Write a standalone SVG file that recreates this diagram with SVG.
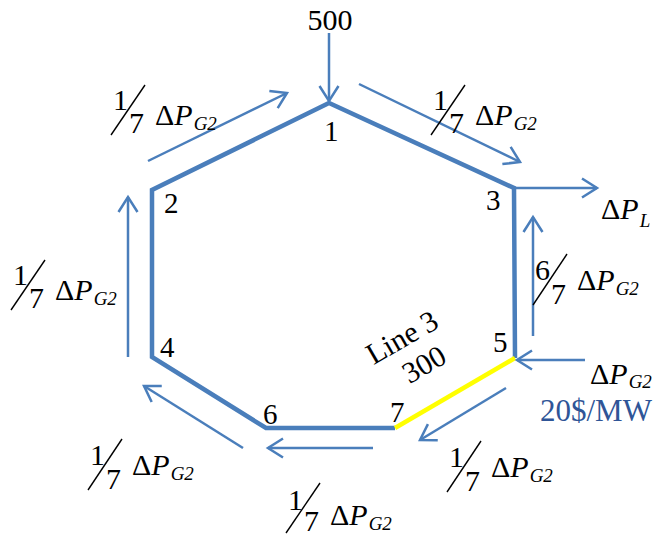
<svg xmlns="http://www.w3.org/2000/svg" width="663" height="537" viewBox="0 0 663 537" font-family="'Liberation Serif','Times New Roman',Times,serif">
<style>
text{font-family:"Liberation Serif","Times New Roman",Times,serif;fill:#000}
.nl{font-size:29px}
.fr{font-size:30px}
.dp{font-size:30px}
.it{font-style:italic}
.sb{font-size:19px;font-style:italic}
.sl{stroke:#000;stroke-width:1.4}
.edge{stroke:#4a7ebb;stroke-width:4.5;fill:none;stroke-linejoin:miter}
.hot{stroke:#ffff00}
.arr{stroke:#4a7ebb;stroke-width:2.5;fill:none;marker-end:url(#ah)}
.cost{fill:#2f5597;font-size:31px}
</style>
<defs>
<marker id="ah" markerUnits="userSpaceOnUse" markerWidth="20" markerHeight="22" refX="16" refY="10" orient="auto" overflow="visible">
<path d="M1,0.5 L16,10 L1,19.5" fill="none" stroke="#4a7ebb" stroke-width="2.5"/>
</marker>
</defs>
<rect width="663" height="537" fill="#fff"/>
<g id="connectors">
<g id="lines">
<polyline class="edge" points="395,428 266,428 152,357 152,190 329,103 514,188 515,358"/>
<line class="edge hot" x1="515" y1="358" x2="395" y2="428"/>
</g>
<g id="flows">
<line class="arr" x1="329" y1="33" x2="329" y2="101"/>
<line class="arr" x1="148" y1="161" x2="287" y2="93"/>
<line class="arr" x1="359" y1="84" x2="520" y2="162"/>
<line class="arr" x1="514" y1="188" x2="597" y2="188"/>
<line class="arr" x1="533" y1="336" x2="533" y2="217"/>
<line class="arr" x1="585" y1="360" x2="517" y2="360"/>
<line class="arr" x1="506" y1="388" x2="420" y2="440"/>
<line class="arr" x1="373" y1="448" x2="268" y2="448"/>
<line class="arr" x1="243" y1="448" x2="144" y2="386"/>
<line class="arr" x1="128" y1="357" x2="128" y2="197"/>
</g>
</g>
<g id="node-1"><text class="nl" x="324" y="141">1</text></g>
<g id="node-2"><text class="nl" x="164" y="213">2</text></g>
<g id="node-3"><text class="nl" x="486" y="210">3</text></g>
<g id="node-4"><text class="nl" x="160" y="357">4</text></g>
<g id="node-5"><text class="nl" x="493" y="352">5</text></g>
<g id="node-6"><text class="nl" x="263" y="424">6</text></g>
<g id="node-7"><text class="nl" x="390" y="422">7</text></g>
<g id="label-500"><text class="fr" x="330" y="30" text-anchor="middle" font-size="31">500</text></g>
<g id="label-line3">
<text x="407" y="346" font-size="30" text-anchor="middle" transform="rotate(-30 407 346)">Line 3</text>
<text x="429" y="373" font-size="30" text-anchor="middle" transform="rotate(-30 429 373)">300</text>
</g>
<g id="label-top-left" transform="translate(155,125)">
<text class="fr" x="-42" y="-15">1</text><line class="sl" x1="-44" y1="10" x2="-10" y2="-40"/><text class="fr" x="-26" y="8">7</text>
<text class="dp" x="0" y="0">Δ<tspan class="it">P</tspan><tspan class="sb" dx="1" dy="5">G2</tspan></text>
</g>
<g id="label-top-right" transform="translate(475,125)">
<text class="fr" x="-42" y="-15">1</text><line class="sl" x1="-44" y1="10" x2="-10" y2="-40"/><text class="fr" x="-26" y="8">7</text>
<text class="dp" x="0" y="0">Δ<tspan class="it">P</tspan><tspan class="sb" dx="1" dy="5">G2</tspan></text>
</g>
<g id="label-left" transform="translate(55,300)">
<text class="fr" x="-42" y="-15">1</text><line class="sl" x1="-44" y1="10" x2="-10" y2="-40"/><text class="fr" x="-26" y="8">7</text>
<text class="dp" x="0" y="0">Δ<tspan class="it">P</tspan><tspan class="sb" dx="1" dy="5">G2</tspan></text>
</g>
<g id="label-right" transform="translate(577,290)">
<text class="fr" x="-42" y="-10">6</text><line class="sl" x1="-44" y1="15" x2="-10" y2="-36"/><text class="fr" x="-26" y="14">7</text>
<text class="dp" x="0" y="0">Δ<tspan class="it">P</tspan><tspan class="sb" dx="1" dy="5">G2</tspan></text>
</g>
<g id="label-bottom-left" transform="translate(132,475)">
<text class="fr" x="-42" y="-10">1</text><line class="sl" x1="-44" y1="15" x2="-10" y2="-36"/><text class="fr" x="-26" y="14">7</text>
<text class="dp" x="0" y="0">Δ<tspan class="it">P</tspan><tspan class="sb" dx="1" dy="5">G2</tspan></text>
</g>
<g id="label-bottom" transform="translate(330,525)">
<text class="fr" x="-42" y="-15">1</text><line class="sl" x1="-44" y1="8" x2="-10" y2="-42"/><text class="fr" x="-26" y="6">7</text>
<text class="dp" x="0" y="0">Δ<tspan class="it">P</tspan><tspan class="sb" dx="1" dy="5">G2</tspan></text>
</g>
<g id="label-bottom-right" transform="translate(491,477)">
<text class="fr" x="-42" y="-10">1</text><line class="sl" x1="-44" y1="15" x2="-10" y2="-36"/><text class="fr" x="-26" y="14">7</text>
<text class="dp" x="0" y="0">Δ<tspan class="it">P</tspan><tspan class="sb" dx="1" dy="5">G2</tspan></text>
</g>
<g id="label-load">
<text class="dp" x="601" y="219">Δ<tspan class="it">P</tspan><tspan class="sb" dx="1" dy="8">L</tspan></text>
</g>
<g id="label-gen">
<text class="dp" x="590" y="384">Δ<tspan class="it">P</tspan><tspan class="sb" dx="1" dy="4">G2</tspan></text>
<text class="cost" x="540" y="421">20$/MW</text>
</g>
</svg>
